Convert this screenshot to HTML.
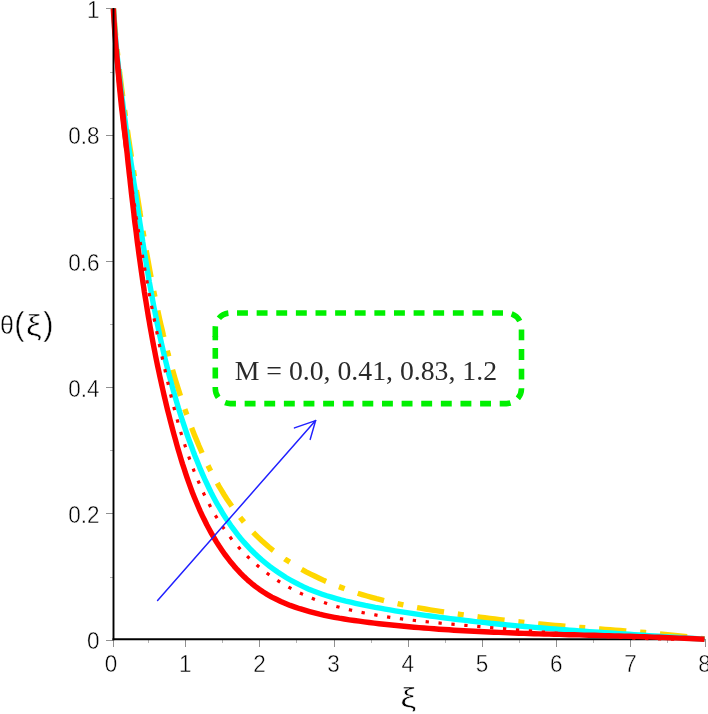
<!DOCTYPE html>
<html><head><meta charset="utf-8"><title>theta(xi) profile</title>
<style>
html,body{margin:0;padding:0;background:#fff;}
body{width:708px;height:714px;overflow:hidden;}
svg{display:block;}
text{font-family:"Liberation Sans",sans-serif;fill:#000;}
.tk{stroke:#909090;stroke-width:1;shape-rendering:crispEdges;}
.tm{stroke:#b4b4b4;stroke-width:1;shape-rendering:crispEdges;}
.lab{font-size:22.5px;}
.thin{stroke:#fff;stroke-width:0.45px;}
.thin2{stroke:#fff;stroke-width:0.6px;}
.ser{font-family:"Liberation Serif",serif;}
</style></head><body>
<svg width="708" height="714" viewBox="0 0 708 714">
<rect width="708" height="714" fill="#fff"/>

<line class="tk" x1="113.2" y1="639" x2="113.2" y2="647"/>
<line class="tm" x1="148.5" y1="639" x2="148.5" y2="643"/>
<line class="tk" x1="185.6" y1="639" x2="185.6" y2="647"/>
<line class="tm" x1="222.7" y1="639" x2="222.7" y2="643"/>
<line class="tk" x1="259.8" y1="639" x2="259.8" y2="647"/>
<line class="tm" x1="296.9" y1="639" x2="296.9" y2="643"/>
<line class="tk" x1="334.0" y1="639" x2="334.0" y2="647"/>
<line class="tm" x1="371.1" y1="639" x2="371.1" y2="643"/>
<line class="tk" x1="408.2" y1="639" x2="408.2" y2="647"/>
<line class="tm" x1="445.3" y1="639" x2="445.3" y2="643"/>
<line class="tk" x1="482.4" y1="639" x2="482.4" y2="647"/>
<line class="tm" x1="519.5" y1="639" x2="519.5" y2="643"/>
<line class="tk" x1="556.6" y1="639" x2="556.6" y2="647"/>
<line class="tm" x1="593.7" y1="639" x2="593.7" y2="643"/>
<line class="tk" x1="630.8" y1="639" x2="630.8" y2="647"/>
<line class="tm" x1="667.9" y1="639" x2="667.9" y2="643"/>
<line class="tk" x1="705.0" y1="639" x2="705.0" y2="647"/>
<line class="tk" x1="105.5" y1="640.1" x2="113" y2="640.1"/>
<line class="tm" x1="109.5" y1="577.0" x2="113" y2="577.0"/>
<line class="tk" x1="105.5" y1="513.9" x2="113" y2="513.9"/>
<line class="tm" x1="109.5" y1="450.7" x2="113" y2="450.7"/>
<line class="tk" x1="105.5" y1="387.6" x2="113" y2="387.6"/>
<line class="tm" x1="109.5" y1="324.5" x2="113" y2="324.5"/>
<line class="tk" x1="105.5" y1="261.4" x2="113" y2="261.4"/>
<line class="tm" x1="109.5" y1="198.3" x2="113" y2="198.3"/>
<line class="tk" x1="105.5" y1="135.1" x2="113" y2="135.1"/>
<line class="tm" x1="109.5" y1="72.0" x2="113" y2="72.0"/>
<line class="tk" x1="105.5" y1="8.9" x2="113" y2="8.9"/>
<line x1="112.5" y1="639.2" x2="705" y2="639.2" stroke="#000" stroke-width="1.9"/>
<path d="M113.4,8.3 L113.8,13.3 L114.2,18.3 L114.6,23.3 L115.0,28.3 L115.5,33.3 L115.9,38.2 L116.4,43.2 L116.9,48.2 L117.5,53.2 L118.0,58.2 L118.6,63.2 L119.2,68.2 L119.7,73.2 L120.4,78.1 L121.0,83.1 L121.6,88.1 L122.3,93.1 L122.9,98.1 L123.6,103.1 L124.3,108.0 L125.0,113.0 L125.7,118.0 L126.4,123.0 L127.1,128.0 L127.8,132.9 L128.5,137.9 L129.3,142.9 L130.0,147.8 L130.8,152.8 L131.5,157.8 L132.3,162.7 L133.0,167.7 L133.8,172.7 L134.6,177.6 L135.3,182.6 L136.1,187.5 L136.8,192.5 L137.6,197.4 L138.4,202.4 L139.2,207.3 L139.9,212.3 L140.7,217.2 L141.5,222.2 L142.3,227.1 L143.1,232.0 L143.9,236.9 L144.8,241.9 L145.6,246.8 L146.4,251.7 L147.3,256.6 L148.2,261.6 L149.1,266.5 L150.0,271.4 L150.9,276.3 L151.8,281.2 L152.7,286.1 L153.7,291.0 L154.7,295.9 L155.7,300.8 L156.7,305.6 L157.8,310.5 L158.8,315.4 L159.9,320.3 L161.0,325.1 L162.2,330.0 L163.3,334.9 L164.5,339.7 L165.7,344.6 L167.0,349.4 L168.2,354.3 L169.5,359.1 L170.9,364.0 L172.2,368.8 L173.6,373.6 L175.0,378.4 L176.5,383.3 L178.0,388.1 L179.5,392.9 L181.0,397.7 L182.6,402.5 L184.2,407.3 L185.9,412.1 L187.6,416.9 L189.4,421.6 L191.1,426.4 L193.0,431.2 L194.8,435.9 L196.8,440.6 L198.7,445.3 L200.8,450.0 L202.8,454.6 L205.0,459.2 L207.1,463.8 L209.4,468.4 L211.7,472.9 L214.0,477.3 L216.5,481.7 L218.9,486.1 L221.5,490.4 L224.1,494.7 L226.8,498.9 L229.6,503.0 L232.4,507.1 L235.3,511.1 L238.3,515.1 L241.4,518.9 L244.5,522.7 L247.7,526.5 L251.0,530.1 L254.4,533.7 L257.9,537.1 L261.5,540.5 L265.2,543.8 L268.9,547.0 L272.7,550.1 L276.7,553.1 L280.7,556.0 L284.8,558.9 L288.9,561.6 L293.1,564.3 L297.4,566.9 L301.7,569.4 L306.1,571.8 L310.6,574.1 L315.1,576.3 L319.7,578.5 L324.2,580.6 L328.9,582.6 L333.5,584.5 L338.2,586.4 L343.0,588.1 L347.7,589.9 L352.5,591.5 L357.3,593.1 L362.1,594.6 L366.9,596.0 L371.7,597.4 L376.5,598.7 L381.4,599.9 L386.2,601.1 L391.1,602.3 L395.9,603.3 L400.8,604.4 L405.7,605.4 L410.6,606.4 L415.5,607.3 L420.4,608.2 L425.3,609.0 L430.2,609.8 L435.2,610.6 L440.1,611.4 L445.1,612.2 L450.0,612.9 L455.0,613.6 L459.9,614.3 L464.9,615.0 L469.9,615.7 L474.8,616.4 L479.8,617.1 L484.8,617.7 L489.8,618.4 L494.8,619.0 L499.8,619.6 L504.8,620.2 L509.8,620.8 L514.8,621.4 L519.8,621.9 L524.8,622.5 L529.9,623.0 L534.9,623.5 L539.9,624.0 L544.9,624.5 L549.9,625.0 L555.0,625.4 L560.0,625.8 L565.0,626.2 L570.0,626.7 L575.0,627.1 L580.1,627.5 L585.1,627.8 L590.1,628.2 L595.1,628.6 L600.1,629.0 L605.1,629.4 L610.1,629.7 L615.2,630.1 L620.2,630.5 L625.2,630.9 L630.2,631.3 L635.1,631.7 L640.1,632.1 L645.1,632.5 L650.1,633.0 L655.1,633.4 L660.0,633.9 L665.0,634.4 L670.0,634.9 L674.9,635.4 L679.9,635.9 L684.8,636.5 L689.7,637.1 L694.7,637.7 L699.6,638.3 L704.5,639.0" fill="none" stroke="#ffd700" stroke-width="5.4" stroke-dasharray="27.3 13.9 6 13.9" stroke-dashoffset="-0.1"/>
<path d="M113.4,8.3 L113.7,13.2 L114.0,18.2 L114.4,23.1 L114.7,28.1 L115.1,33.0 L115.6,38.0 L116.0,43.0 L116.5,47.9 L116.9,52.9 L117.4,57.9 L118.0,62.8 L118.5,67.8 L119.1,72.8 L119.6,77.7 L120.2,82.7 L120.8,87.7 L121.4,92.7 L122.0,97.7 L122.7,102.7 L123.3,107.6 L124.0,112.6 L124.7,117.6 L125.4,122.6 L126.0,127.6 L126.7,132.6 L127.4,137.6 L128.1,142.6 L128.9,147.6 L129.6,152.5 L130.3,157.5 L131.0,162.5 L131.8,167.5 L132.5,172.5 L133.2,177.5 L133.9,182.5 L134.7,187.5 L135.4,192.4 L136.1,197.4 L136.8,202.4 L137.6,207.4 L138.3,212.4 L139.1,217.3 L139.8,222.3 L140.6,227.3 L141.3,232.2 L142.1,237.2 L142.8,242.2 L143.6,247.1 L144.4,252.1 L145.2,257.0 L146.0,262.0 L146.8,266.9 L147.7,271.9 L148.5,276.8 L149.3,281.8 L150.2,286.7 L151.1,291.6 L152.0,296.5 L152.9,301.5 L153.8,306.4 L154.8,311.3 L155.8,316.2 L156.7,321.1 L157.8,326.0 L158.8,330.9 L159.8,335.8 L160.9,340.6 L162.0,345.5 L163.1,350.4 L164.2,355.2 L165.4,360.1 L166.6,364.9 L167.8,369.8 L169.0,374.6 L170.3,379.4 L171.6,384.3 L172.9,389.1 L174.3,393.9 L175.7,398.7 L177.1,403.5 L178.5,408.3 L180.0,413.0 L181.5,417.8 L183.1,422.6 L184.7,427.3 L186.3,432.1 L187.9,436.8 L189.6,441.5 L191.4,446.2 L193.1,451.0 L194.9,455.7 L196.8,460.3 L198.7,465.0 L200.6,469.7 L202.6,474.3 L204.6,478.9 L206.8,483.5 L208.9,488.0 L211.1,492.5 L213.4,496.9 L215.8,501.4 L218.2,505.7 L220.8,510.0 L223.3,514.3 L226.0,518.5 L228.8,522.6 L231.6,526.7 L234.6,530.7 L237.6,534.6 L240.7,538.5 L243.9,542.2 L247.3,545.9 L250.7,549.5 L254.2,553.0 L257.9,556.4 L261.6,559.8 L265.5,563.0 L269.4,566.1 L273.5,569.1 L277.6,572.0 L281.8,574.8 L286.0,577.5 L290.4,580.0 L294.8,582.4 L299.2,584.7 L303.7,586.9 L308.2,588.9 L312.8,590.8 L317.4,592.5 L322.1,594.2 L326.8,595.8 L331.5,597.2 L336.3,598.6 L341.0,599.9 L345.8,601.1 L350.7,602.2 L355.5,603.3 L360.4,604.4 L365.3,605.4 L370.3,606.3 L375.2,607.3 L380.2,608.2 L385.2,609.1 L390.1,609.9 L395.1,610.8 L400.1,611.6 L405.2,612.4 L410.2,613.2 L415.2,613.9 L420.2,614.6 L425.3,615.3 L430.3,616.0 L435.3,616.7 L440.3,617.4 L445.4,618.0 L450.4,618.6 L455.4,619.2 L460.4,619.8 L465.4,620.4 L470.3,621.0 L475.3,621.6 L480.3,622.1 L485.3,622.6 L490.2,623.2 L495.2,623.7 L500.2,624.2 L505.1,624.7 L510.1,625.1 L515.0,625.6 L520.0,626.1 L525.0,626.5 L529.9,626.9 L534.9,627.4 L539.8,627.8 L544.7,628.2 L549.7,628.6 L554.6,629.0 L559.6,629.4 L564.5,629.8 L569.5,630.2 L574.4,630.5 L579.4,630.9 L584.3,631.3 L589.3,631.6 L594.3,632.0 L599.2,632.3 L604.2,632.6 L609.1,633.0 L614.1,633.3 L619.1,633.7 L624.1,634.0 L629.1,634.3 L634.0,634.6 L639.0,635.0 L644.0,635.3 L649.0,635.6 L654.0,635.9 L659.1,636.2 L664.1,636.6 L669.1,636.9 L674.1,637.2 L679.2,637.5 L684.2,637.9 L689.3,638.2 L694.3,638.5 L699.4,638.9 L704.5,639.2" fill="none" stroke="#00ffff" stroke-width="5.4"/>
<path d="M113.4,8.3 L113.8,13.3 L114.1,18.3 L114.5,23.3 L114.9,28.3 L115.3,33.3 L115.7,38.3 L116.1,43.3 L116.5,48.2 L116.9,53.2 L117.4,58.2 L117.8,63.2 L118.3,68.2 L118.8,73.2 L119.2,78.2 L119.7,83.2 L120.2,88.1 L120.7,93.1 L121.2,98.1 L121.7,103.1 L122.3,108.1 L122.8,113.0 L123.3,118.0 L123.9,123.0 L124.5,128.0 L125.0,133.0 L125.6,137.9 L126.2,142.9 L126.8,147.9 L127.4,152.8 L128.1,157.8 L128.7,162.8 L129.3,167.7 L130.0,172.7 L130.7,177.7 L131.3,182.6 L132.0,187.6 L132.7,192.5 L133.4,197.5 L134.1,202.4 L134.9,207.4 L135.6,212.3 L136.3,217.3 L137.1,222.2 L137.9,227.2 L138.6,232.1 L139.4,237.1 L140.2,242.0 L141.0,246.9 L141.8,251.9 L142.7,256.8 L143.5,261.7 L144.4,266.7 L145.2,271.6 L146.1,276.5 L147.0,281.4 L147.9,286.3 L148.8,291.3 L149.7,296.2 L150.6,301.1 L151.6,306.0 L152.5,310.9 L153.5,315.8 L154.5,320.7 L155.5,325.6 L156.5,330.5 L157.5,335.4 L158.5,340.3 L159.5,345.2 L160.6,350.1 L161.6,355.0 L162.7,359.9 L163.8,364.7 L164.9,369.6 L166.0,374.5 L167.1,379.4 L168.2,384.2 L169.4,389.1 L170.5,393.9 L171.7,398.8 L173.0,403.7 L174.2,408.5 L175.5,413.3 L176.8,418.2 L178.1,423.0 L179.5,427.8 L180.9,432.6 L182.4,437.4 L183.9,442.2 L185.5,447.0 L187.1,451.8 L188.7,456.5 L190.4,461.3 L192.2,466.0 L194.0,470.8 L195.9,475.5 L197.8,480.1 L199.8,484.8 L201.9,489.4 L204.0,494.0 L206.2,498.5 L208.5,503.0 L210.9,507.4 L213.3,511.8 L215.8,516.1 L218.5,520.4 L221.2,524.6 L224.0,528.7 L226.8,532.8 L229.8,536.7 L232.9,540.6 L236.1,544.4 L239.4,548.1 L242.7,551.8 L246.2,555.3 L249.8,558.7 L253.4,562.1 L257.1,565.3 L260.9,568.5 L264.8,571.5 L268.8,574.5 L272.8,577.4 L276.9,580.1 L281.1,582.8 L285.3,585.3 L289.6,587.7 L294.0,590.1 L298.5,592.3 L302.9,594.4 L307.5,596.4 L312.1,598.3 L316.7,600.1 L321.4,601.7 L326.2,603.3 L331.0,604.8 L335.8,606.3 L340.6,607.6 L345.5,608.8 L350.4,610.0 L355.3,611.1 L360.3,612.2 L365.2,613.1 L370.2,614.1 L375.2,614.9 L380.2,615.8 L385.2,616.5 L390.2,617.3 L395.2,618.0 L400.1,618.7 L405.1,619.3 L410.1,619.9 L415.1,620.5 L420.1,621.0 L425.1,621.6 L430.1,622.1 L435.0,622.6 L440.0,623.1 L445.0,623.5 L450.0,624.0 L455.0,624.4 L459.9,624.9 L464.9,625.3 L469.9,625.7 L474.9,626.2 L479.8,626.6 L484.8,627.0 L489.8,627.5 L494.8,627.9 L499.7,628.3 L504.7,628.8 L509.7,629.2 L514.6,629.6 L519.6,630.1 L524.6,630.5 L529.6,630.9 L534.5,631.3 L539.5,631.8 L544.5,632.2 L549.5,632.6 L554.4,633.0 L559.4,633.4 L564.4,633.7 L569.4,634.1 L574.4,634.5 L579.3,634.8 L584.3,635.2 L589.3,635.5 L594.3,635.9 L599.3,636.2 L604.3,636.5 L609.3,636.8 L614.3,637.1 L619.2,637.3 L624.2,637.6 L629.2,637.8 L634.2,638.1 L639.2,638.3 L644.2,638.5 L649.3,638.6 L654.3,638.8 L659.3,638.9 L664.3,639.1 L669.3,639.2 L674.3,639.2 L679.3,639.3 L684.4,639.3 L689.4,639.4 L694.4,639.4 L699.5,639.3 L704.5,639.3" fill="none" stroke="#ff0000" stroke-width="3.2" stroke-dasharray="3.3 9.65" stroke-dashoffset="-2.2"/>
<path d="M113.4,8.3 L113.6,13.3 L113.9,18.3 L114.2,23.4 L114.5,28.4 L114.9,33.4 L115.3,38.4 L115.7,43.4 L116.1,48.4 L116.6,53.4 L117.1,58.4 L117.6,63.4 L118.1,68.4 L118.6,73.4 L119.1,78.4 L119.7,83.4 L120.2,88.4 L120.8,93.4 L121.3,98.4 L121.8,103.4 L122.3,108.4 L122.9,113.4 L123.4,118.4 L123.9,123.4 L124.4,128.4 L125.0,133.3 L125.5,138.3 L126.0,143.3 L126.5,148.3 L127.1,153.3 L127.6,158.2 L128.1,163.2 L128.7,168.2 L129.2,173.2 L129.8,178.1 L130.3,183.1 L130.9,188.1 L131.4,193.0 L132.0,198.0 L132.6,203.0 L133.2,207.9 L133.8,212.9 L134.3,217.9 L134.9,222.8 L135.6,227.8 L136.2,232.7 L136.8,237.7 L137.4,242.6 L138.1,247.6 L138.7,252.5 L139.4,257.5 L140.1,262.4 L140.8,267.4 L141.5,272.3 L142.2,277.2 L142.9,282.2 L143.7,287.1 L144.4,292.1 L145.2,297.0 L146.0,301.9 L146.8,306.9 L147.6,311.8 L148.4,316.7 L149.3,321.7 L150.1,326.6 L151.0,331.5 L151.9,336.4 L152.8,341.4 L153.7,346.3 L154.7,351.2 L155.6,356.1 L156.6,361.0 L157.6,365.9 L158.7,370.9 L159.7,375.8 L160.8,380.7 L161.9,385.6 L163.0,390.5 L164.1,395.4 L165.3,400.3 L166.4,405.2 L167.6,410.1 L168.9,415.0 L170.1,419.9 L171.4,424.8 L172.7,429.7 L174.0,434.6 L175.4,439.5 L176.7,444.4 L178.1,449.3 L179.6,454.2 L181.0,459.0 L182.5,463.9 L184.1,468.7 L185.7,473.6 L187.3,478.4 L189.0,483.2 L190.7,487.9 L192.5,492.7 L194.4,497.4 L196.3,502.0 L198.3,506.7 L200.3,511.3 L202.4,515.8 L204.6,520.3 L206.8,524.8 L209.2,529.2 L211.6,533.6 L214.1,537.9 L216.6,542.1 L219.3,546.3 L222.1,550.4 L224.9,554.5 L227.9,558.4 L230.9,562.3 L234.1,566.1 L237.3,569.7 L240.7,573.3 L244.2,576.8 L247.7,580.1 L251.5,583.3 L255.3,586.3 L259.2,589.2 L263.3,592.0 L267.5,594.6 L271.8,597.1 L276.3,599.3 L280.8,601.5 L285.5,603.5 L290.2,605.4 L295.0,607.1 L299.8,608.7 L304.7,610.2 L309.6,611.6 L314.5,612.9 L319.5,614.2 L324.5,615.3 L329.4,616.3 L334.4,617.3 L339.3,618.2 L344.3,619.0 L349.3,619.8 L354.3,620.5 L359.2,621.2 L364.2,621.9 L369.2,622.5 L374.2,623.1 L379.1,623.7 L384.1,624.3 L389.1,624.8 L394.1,625.3 L399.1,625.8 L404.1,626.3 L409.1,626.8 L414.0,627.2 L419.0,627.6 L424.0,628.0 L429.0,628.4 L434.0,628.8 L439.0,629.2 L444.0,629.5 L449.0,629.8 L454.0,630.2 L459.0,630.5 L464.0,630.8 L469.0,631.0 L474.0,631.3 L479.0,631.5 L484.0,631.8 L489.0,632.0 L494.0,632.2 L499.0,632.4 L504.0,632.6 L509.0,632.8 L514.0,633.0 L519.0,633.2 L524.0,633.4 L529.0,633.5 L534.0,633.7 L539.0,633.9 L544.0,634.0 L549.1,634.1 L554.1,634.3 L559.1,634.4 L564.1,634.6 L569.1,634.7 L574.1,634.8 L579.1,634.9 L584.1,635.1 L589.1,635.2 L594.2,635.3 L599.2,635.5 L604.2,635.6 L609.2,635.7 L614.2,635.9 L619.2,636.0 L624.2,636.1 L629.3,636.3 L634.3,636.4 L639.3,636.6 L644.3,636.7 L649.3,636.9 L654.3,637.1 L659.4,637.3 L664.4,637.5 L669.4,637.7 L674.4,637.9 L679.4,638.1 L684.4,638.3 L689.5,638.5 L694.5,638.8 L699.5,639.0 L704.5,639.3" fill="none" stroke="#ff0000" stroke-width="5.4" stroke-linejoin="round"/>
<path d="M114.2,30 L116.2,60 L118.3,85 L120.3,105 L122.9,127 L125.6,148" fill="none" stroke="#ff0000" stroke-width="3.4" stroke-linecap="round" stroke-linejoin="round"/>
<line x1="113.5" y1="8" x2="113.5" y2="640.2" stroke="#000" stroke-width="1.9"/>
<g stroke="#2020ff" stroke-width="1.5" fill="none" stroke-linecap="round" stroke-linejoin="round"><path d="M157.6,600.4 L315.6,420.6"/><path d="M294.5,427.9 L315.6,420.6 L310.2,439.4"/></g>
<path d="M215.3,340.3 V328.0 A15,15 0 0 1 230.3,313.0 H506.5 A15,15 0 0 1 521.5,328.0 V388.6 A15,15 0 0 1 506.5,403.6 H230.3 A15,15 0 0 1 215.3,388.6 Z" fill="none" stroke="#00f000" stroke-width="5.6" stroke-dasharray="10.9 8.72" stroke-dashoffset="16.42"/>
<line x1="215.3" y1="336" x2="215.3" y2="340.3" stroke="#00f000" stroke-width="5.6"/>
<text class="ser" x="234.7" y="380.2" font-size="27.75" fill="#222" style="font-family:'Liberation Serif',serif;fill:#2a2a2a">M = 0.0, 0.41, 0.83, 1.2</text>
<text transform="translate(99.6,18.0) scale(0.93,1)" font-size="24.2" class="thin" text-anchor="end">1</text>
<text transform="translate(99.6,144.2) scale(0.93,1)" font-size="24.2" class="thin" text-anchor="end">0.8</text>
<text transform="translate(99.6,270.5) scale(0.93,1)" font-size="24.2" class="thin" text-anchor="end">0.6</text>
<text transform="translate(99.6,396.7) scale(0.93,1)" font-size="24.2" class="thin" text-anchor="end">0.4</text>
<text transform="translate(99.6,523.0) scale(0.93,1)" font-size="24.2" class="thin" text-anchor="end">0.2</text>
<text transform="translate(99.6,649.2) scale(0.93,1)" font-size="24.2" class="thin" text-anchor="end">0</text>
<text transform="translate(111.0,672.2) scale(0.93,1)" font-size="24.2" class="thin" text-anchor="middle">0</text>
<text transform="translate(185.2,672.2) scale(0.93,1)" font-size="24.2" class="thin" text-anchor="middle">1</text>
<text transform="translate(259.4,672.2) scale(0.93,1)" font-size="24.2" class="thin" text-anchor="middle">2</text>
<text transform="translate(333.6,672.2) scale(0.93,1)" font-size="24.2" class="thin" text-anchor="middle">3</text>
<text transform="translate(407.8,672.2) scale(0.93,1)" font-size="24.2" class="thin" text-anchor="middle">4</text>
<text transform="translate(482.0,672.2) scale(0.93,1)" font-size="24.2" class="thin" text-anchor="middle">5</text>
<text transform="translate(556.2,672.2) scale(0.93,1)" font-size="24.2" class="thin" text-anchor="middle">6</text>
<text transform="translate(630.4,672.2) scale(0.93,1)" font-size="24.2" class="thin" text-anchor="middle">7</text>
<text transform="translate(704.6,672.2) scale(0.93,1)" font-size="24.2" class="thin" text-anchor="middle">8</text>
<text x="0" y="333.7" font-size="25" class="thin">θ</text>
<text transform="translate(14.2,334.7) scale(0.92,1)" font-size="33.4" class="thin">(</text>
<text transform="translate(25.8,335.9) scale(1.22,1)" font-size="29.4" class="thin2">ξ</text>
<text transform="translate(43.2,334.7) scale(0.92,1)" font-size="33.4" class="thin">)</text>
<text transform="translate(400.2,707) scale(1.32,1)" font-size="27.5" class="thin2">ξ</text>
</svg></body></html>
